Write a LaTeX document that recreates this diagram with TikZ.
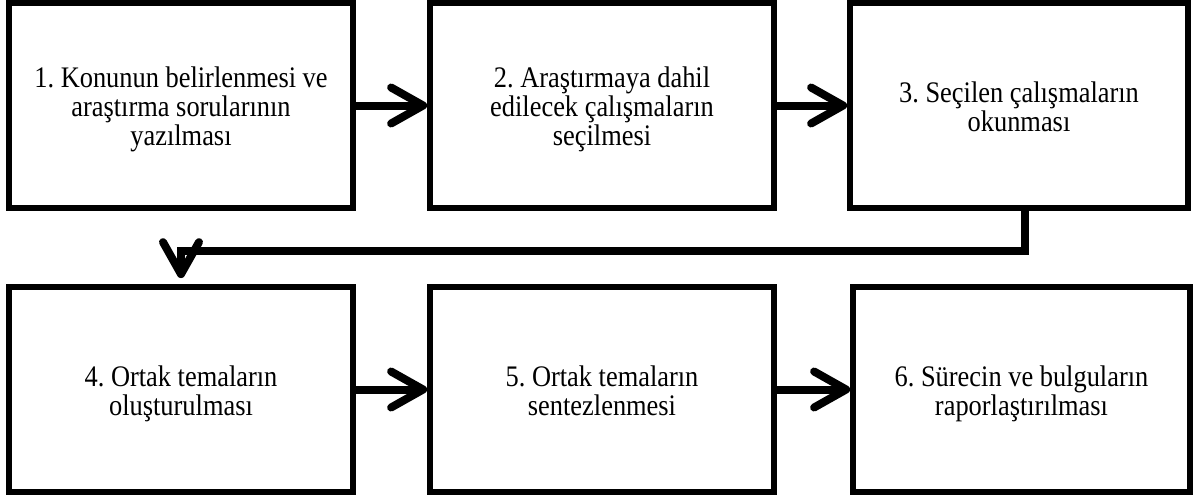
\documentclass[tikz,border=0pt]{standalone}
\usepackage{fontspec}
\usepackage{graphicx}
\setmainfont{Liberation Serif}
\usetikzlibrary{arrows.meta, positioning}
\frenchspacing
% text of the figure is set a little taller than wide, and a bit low
\newcommand{\tall}[1]{\raisebox{-2.5pt}[\height][\depth]{\scalebox{1}[1.13]{\begin{tabular}{@{}c@{}}#1\end{tabular}}}}

\begin{document}
\begin{tikzpicture}[x=0.5pt, y=-0.5pt,
    stage/.style={rectangle, draw, line width=2.9pt, fill=white,
                  minimum height=102.5pt, align=center,
                  font=\fontsize{13.2pt}{12.4pt}\selectfont},
    flow/.style={line width=4pt, line cap=round,
                 -{Straight Barb[length=16pt, width=18pt, line cap=round, line join=round]}}]
  \useasboundingbox (0,0) rectangle (1195,499);

  % upper row
  \node[stage, minimum width=172pt] (s1) at (181,105.5)
       {\tall{1. Konunun belirlenmesi ve\\ araştırma sorularının\\ yazılması}};
  \node[stage, minimum width=172pt] (s2) at (602,105.5)
       {\tall{2. Araştırmaya dahil\\ edilecek çalışmaların\\ seçilmesi}};
  \node[stage, minimum width=169pt] (s3) at (1019,105.5)
       {\tall{3. Seçilen çalışmaların\\ okunması}};

  % lower row
  \node[stage, minimum width=172pt] (s4) at (181,389.5)
       {\tall{4. Ortak temaların\\ oluşturulması}};
  \node[stage, minimum width=172pt] (s5) at (602,389.5)
       {\tall{5. Ortak temaların\\ sentezlenmesi}};
  \node[stage, minimum width=168.5pt] (s6) at (1021.5,389.5)
       {\tall{6. Sürecin ve bulguların\\ raporlaştırılması}};

  \coordinate (turn) at ([xshift=3pt]s3.south);

  \draw[flow] (s1) -- (s2);
  \draw[flow] (s2) -- (s3);
  \draw[flow, line cap=butt, shorten >=3pt] (turn) -- ++(0,40) -| (s4);
  \draw[flow] (s4) -- (s5);
  \draw[flow] (s5) -- (s6);
\end{tikzpicture}
\end{document}
